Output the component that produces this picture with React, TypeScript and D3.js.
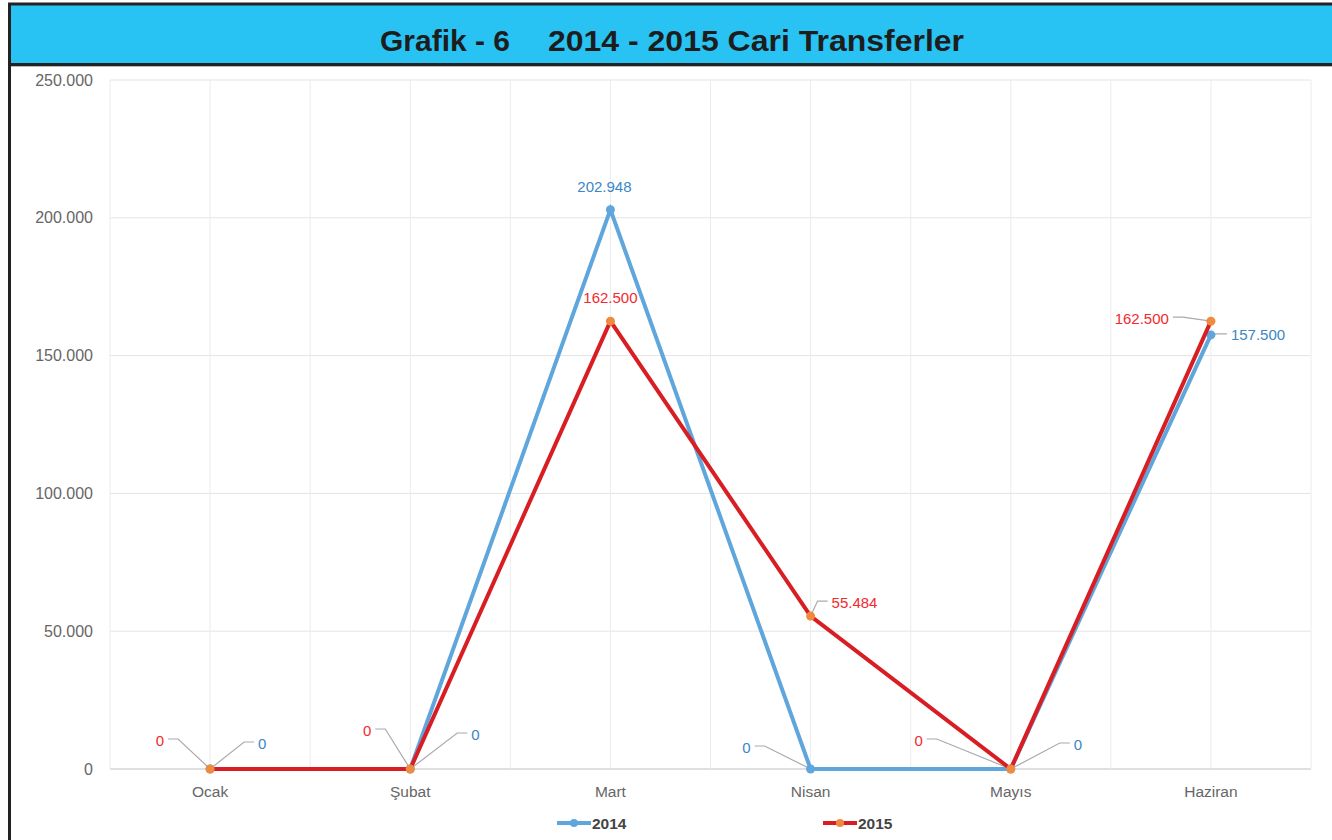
import * as d3 from "d3";
import { useEffect, useRef } from "react";

const months = ["Ocak", "Şubat", "Mart", "Nisan", "Mayıs", "Haziran"];
const values2014 = [0, 0, 202948, 0, 0, 157500];
const values2015 = [0, 0, 162500, 55484, 0, 162500];
const yTicks = [0, 50000, 100000, 150000, 200000, 250000];

const BLUE_LINE = "#5fa6dc";
const BLUE_TEXT = "#3b86c6";
const RED_LINE = "#d81e23";
const RED_TEXT = "#f2292e";
const ORANGE_DOT = "#ef8a3e";

// where each data label sits relative to its point: [dx, dy, anchor, leader?]
const labelPos2014: [number, number, string, boolean][] = [
  [48, -24, "start", true],
  [61, -33, "start", true],
  [-6, -21, "middle", false],
  [-60, -20, "end", true],
  [63, -23, "start", true],
  [20, 2, "start", true],
];
const labelPos2015: [number, number, string, boolean][] = [
  [-46, -27, "end", true],
  [-39, -37, "end", true],
  [0, -22, "middle", false],
  [21, -12, "start", true],
  [-88, -27, "end", true],
  [-42, -1, "end", true],
];

const App = () => {
  const svgRef = useRef(null);

  useEffect(() => {
    document.body.style.margin = "0";
    const width = 1332;
    const height = 840;
    const svg = d3.select(svgRef.current).attr("width", width).attr("height", height);
    svg.selectAll("*").remove();

    svg.append("rect").attr("width", width).attr("height", height).attr("fill", "white");

    // banner
    svg.append("rect").attr("x", 9).attr("y", 4).attr("width", width).attr("height", 60).attr("fill", "#29c3f3");
    svg.append("line").attr("x1", 8).attr("x2", width).attr("y1", 4).attr("y2", 4).attr("stroke", "#222").attr("stroke-width", 3);
    svg.append("line").attr("x1", 8).attr("x2", width).attr("y1", 64.5).attr("y2", 64.5).attr("stroke", "#222").attr("stroke-width", 3);
    svg.append("line").attr("x1", 11).attr("x2", width).attr("y1", 66.5).attr("y2", 66.5).attr("stroke", "#bbb").attr("stroke-width", 1);
    svg.append("line").attr("x1", 9.5).attr("x2", 9.5).attr("y1", 3).attr("y2", height).attr("stroke", "#222").attr("stroke-width", 3);

    const titleFont = "Liberation Sans, Arial, sans-serif";
    svg
      .append("text")
      .attr("x", 380)
      .attr("y", 51)
      .attr("font-family", titleFont)
      .attr("font-weight", "bold")
      .attr("font-size", 30)
      .attr("fill", "#1d1d1d")
      .attr("textLength", 130)
      .attr("lengthAdjust", "spacingAndGlyphs")
      .text("Grafik - 6");
    svg
      .append("text")
      .attr("x", 548)
      .attr("y", 51)
      .attr("font-family", titleFont)
      .attr("font-weight", "bold")
      .attr("font-size", 30)
      .attr("fill", "#1d1d1d")
      .attr("textLength", 416)
      .attr("lengthAdjust", "spacingAndGlyphs")
      .text("2014 - 2015 Cari Transferler");

    const left = 110,
      right = 1311,
      top = 80,
      bottom = 769;

    const x = d3.scaleBand().domain(months).range([left, right]);
    const cx = (m: string) => (x(m) as number) + x.bandwidth() / 2;
    const y = d3.scaleLinear().domain([0, 250000]).range([bottom, top]);
    const fmt = d3.formatLocale({ decimal: ",", thousands: ".", grouping: [3], currency: ["", "₺"] }).format(",d");

    const font = "Liberation Sans, Arial, sans-serif";

    // grid
    const grid = svg.append("g");
    yTicks.forEach((t) => {
      grid
        .append("line")
        .attr("x1", left)
        .attr("x2", right)
        .attr("y1", y(t))
        .attr("y2", y(t))
        .attr("stroke", t === 0 ? "#d4d4d4" : "#e4e4e4")
        .attr("stroke-width", t === 0 ? 1.5 : 1);
      svg
        .append("text")
        .attr("x", 93)
        .attr("y", y(t) + 5.5)
        .attr("text-anchor", "end")
        .attr("font-family", font)
        .attr("font-size", 16)
        .attr("fill", "#666")
        .text(fmt(t));
    });
    const vlines = [left, ...months.map((m) => cx(m)), ...months.map((m) => (x(m) as number) + x.bandwidth())];
    vlines.forEach((vx) => {
      grid
        .append("line")
        .attr("x1", vx)
        .attr("x2", vx)
        .attr("y1", top)
        .attr("y2", bottom)
        .attr("stroke", "#ececec")
        .attr("stroke-width", 1);
    });

    months.forEach((m) => {
      svg
        .append("text")
        .attr("x", cx(m))
        .attr("y", 797)
        .attr("text-anchor", "middle")
        .attr("font-family", font)
        .attr("font-size", 15.5)
        .attr("fill", "#666")
        .text(m);
    });

    const line = d3
      .line<number>()
      .x((d, i) => cx(months[i]))
      .y((d) => y(d));

    const drawLeaders = (vals: number[], pos: [number, number, string, boolean][]) => {
      vals.forEach((v, i) => {
        const [dx, dy, anchor, leader] = pos[i];
        if (!leader) return;
        const px = cx(months[i]);
        const py = y(v);
        const sign = anchor === "end" ? 1 : -1;
        const ex = px + dx + sign * 4;
        const ey = py + dy - 3;
        const mx = ex + sign * 10;
        svg
          .append("path")
          .attr("d", `M${ex},${ey}L${mx},${ey}L${px},${py}`)
          .attr("fill", "none")
          .attr("stroke", "#aaa")
          .attr("stroke-width", 1.2);
      });
    };
    drawLeaders(values2014, labelPos2014);
    drawLeaders(values2015, labelPos2015);

    svg
      .append("path")
      .datum(values2014)
      .attr("d", line)
      .attr("fill", "none")
      .attr("stroke", BLUE_LINE)
      .attr("stroke-width", 4);
    svg
      .selectAll(".dot14")
      .data(values2014)
      .enter()
      .append("circle")
      .attr("cx", (d, i) => cx(months[i]))
      .attr("cy", (d) => y(d))
      .attr("r", 4.5)
      .attr("fill", BLUE_LINE);

    svg
      .append("path")
      .datum(values2015)
      .attr("d", line)
      .attr("fill", "none")
      .attr("stroke", RED_LINE)
      .attr("stroke-width", 4);
    svg
      .selectAll(".dot15")
      .data(values2015)
      .enter()
      .append("circle")
      .attr("cx", (d, i) => cx(months[i]))
      .attr("cy", (d) => y(d))
      .attr("r", 4.5)
      .attr("fill", ORANGE_DOT);

    const drawLabels = (vals: number[], pos: [number, number, string, boolean][], color: string) => {
      vals.forEach((v, i) => {
        const [dx, dy, anchor] = pos[i];
        svg
          .append("text")
          .attr("x", cx(months[i]) + dx)
          .attr("y", y(v) + dy + 3.5)
          .attr("text-anchor", anchor)
          .attr("font-family", font)
          .attr("font-size", 15)
          .attr("fill", color)
          .text(fmt(v));
      });
    };
    drawLabels(values2014, labelPos2014, BLUE_TEXT);
    drawLabels(values2015, labelPos2015, RED_TEXT);

    // legend
    const legend = [
      { name: "2014", color: BLUE_LINE, dot: BLUE_LINE, x: 557 },
      { name: "2015", color: RED_LINE, dot: ORANGE_DOT, x: 823 },
    ];
    legend.forEach((l) => {
      svg.append("line").attr("x1", l.x).attr("x2", l.x + 34).attr("y1", 823).attr("y2", 823).attr("stroke", l.color).attr("stroke-width", 4);
      svg.append("circle").attr("cx", l.x + 17).attr("cy", 823).attr("r", 4).attr("fill", l.dot);
      svg
        .append("text")
        .attr("x", l.x + 35)
        .attr("y", 829)
        .attr("font-family", font)
        .attr("font-weight", "bold")
        .attr("font-size", 15.5)
        .attr("fill", "#444")
        .text(l.name);
    });
  }, []);

  return <svg ref={svgRef} style={{ display: "block" }}></svg>;
};

export default App;
